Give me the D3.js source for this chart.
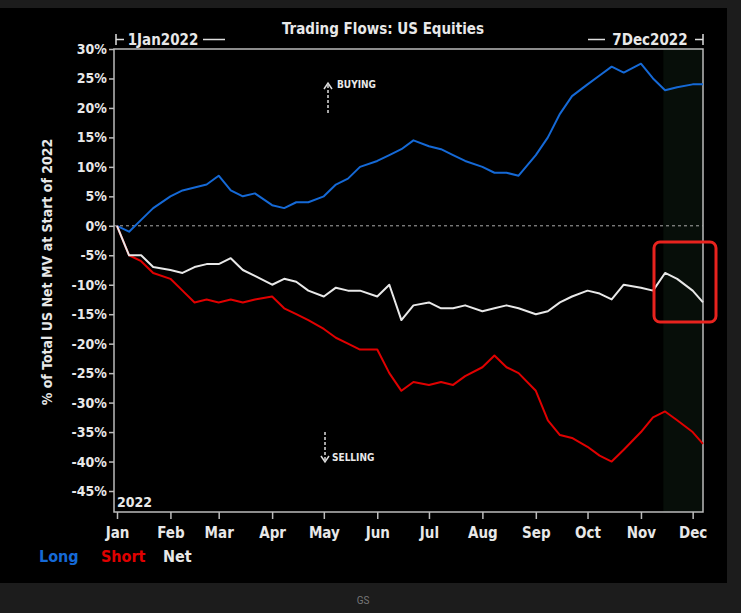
<!DOCTYPE html>
<html><head><meta charset="utf-8">
<script src="https://cdn.jsdelivr.net/npm/d3@7"></script>
<style>
body{margin:0;background:#1c1c1c;}
svg{display:block;}
text{font-family:"DejaVu Sans Condensed","Liberation Sans Narrow",sans-serif;font-weight:bold;fill:#e8e8e8;}
</style></head><body>
<svg id="chart" width="741" height="613"></svg>
<script>
const dates = ["2022-01-01","2022-01-08","2022-01-15","2022-01-22","2022-02-01","2022-02-08","2022-02-15","2022-02-22",
  "2022-03-01","2022-03-08","2022-03-15","2022-03-22","2022-04-01","2022-04-08","2022-04-15","2022-04-22",
  "2022-05-01","2022-05-08","2022-05-15","2022-05-22","2022-06-01","2022-06-08","2022-06-15","2022-06-22",
  "2022-07-01","2022-07-08","2022-07-15","2022-07-22","2022-08-01","2022-08-08","2022-08-15","2022-08-22",
  "2022-09-01","2022-09-08","2022-09-15","2022-09-22","2022-10-01","2022-10-08","2022-10-15","2022-10-22",
  "2022-11-01","2022-11-08","2022-11-15","2022-11-22","2022-12-01","2022-12-07"];
const longVals = [0,-1,1,3,5,6,6.5,7, 8.5,6,5,5.5,3.5,3,4,4, 5,7,8,10,11,12,13,14.5, 13.5,13,12,11,10,9,9,8.5,
  12,15,19,22,24,25.5,27,26, 27.5,25,23,23.5,24,24];
const shortVals = [0,-5,-6,-8,-9,-11,-13,-12.5, -13,-12.5,-13,-12.5,-12,-14,-15,-16, -17.5,-19,-20,-21,-21,-25,-28,-26.5,
  -27,-26.5,-27,-25.5,-24,-22,-24,-25, -28,-33,-35.5,-36,-37.5,-39,-40,-38, -35,-32.5,-31.5,-33,-35,-37];
const netVals = [0,-5,-5,-7,-7.5,-8,-7,-6.5, -6.5,-5.5,-7.5,-8.5,-10,-9,-9.5,-11, -12,-10.5,-11,-11,-12,-10,-16,-13.5,
  -13,-14,-14,-13.5,-14.5,-14,-13.5,-14, -15,-14.5,-13,-12,-11,-11.5,-12.5,-10, -10.5,-11,-8,-9,-11,-13];
const months = ["Jan","Feb","Mar","Apr","May","Jun","Jul","Aug","Sep","Oct","Nov","Dec"];
const yTicks = [30,25,20,15,10,5,0,-5,-10,-15,-20,-25,-30,-35,-40,-45];

const svg = d3.select("#chart");
svg.append("rect").attr("x",0).attr("y",8).attr("width",727).attr("height",575).attr("fill","#000");

const parse = d3.timeParse("%Y-%m-%d");
const x = d3.scaleTime().domain([parse("2022-01-01"), parse("2022-12-07")]).range([117, 703]);
const y = d3.scaleLinear().domain([-45, 30]).range([491, 49]);
const bottom = 512;

// shaded recent period
svg.append("rect").attr("x", x(parse("2022-11-14"))).attr("y",49)
  .attr("width", 703 - x(parse("2022-11-14"))).attr("height",bottom-49).attr("fill","#070e09");

// frame
svg.append("path").attr("d",`M114,49H703V${bottom}H114Z`).attr("fill","none").attr("stroke","#bbb").attr("stroke-width",1.5);

// y axis
const ya = svg.append("g").attr("transform","translate(114,0)")
  .call(d3.axisLeft(y).tickValues(yTicks).tickFormat(d => d + "%").tickSize(5));
ya.select(".domain").remove();
ya.selectAll("line").attr("stroke","#bbb").attr("stroke-width",1.5);
ya.selectAll("text").attr("font-size",14).attr("fill","#e8e8e8").attr("dx",1);

// x axis
const xa = svg.append("g").attr("transform",`translate(0,${bottom})`)
  .call(d3.axisBottom(x).tickValues(months.map((m,i)=>new Date(2022,i,1))).tickFormat((d,i)=>months[i]).tickSize(7).tickPadding(8));
xa.select(".domain").remove();
xa.selectAll("line").attr("stroke","#bbb").attr("stroke-width",1.5);
xa.selectAll("text").attr("font-size",15).attr("fill","#e8e8e8");

// zero line
svg.append("line").attr("x1",114).attr("x2",703).attr("y1",y(0)).attr("y2",y(0))
  .attr("stroke","#aaa").attr("stroke-dasharray","3,3").attr("stroke-width",1);

const pts = dates.map(parse);
const line = d3.line().x((d,i)=>x(pts[i])).y(d=>y(d));
[[longVals,"#1569d6"],[shortVals,"#e00000"],[netVals,"#e8e8e8"]].forEach(([v,c])=>{
  svg.append("path").attr("d",line(v)).attr("fill","none").attr("stroke",c).attr("stroke-width",2).attr("stroke-linejoin","round");
});

// titles
svg.append("text").attr("x",383).attr("y",34).attr("text-anchor","middle").attr("font-size",15).text("Trading Flows: US Equities");
svg.append("text").attr("x",163).attr("y",45).attr("text-anchor","middle").attr("font-size",15).text("1Jan2022");
svg.append("path").attr("d","M116,34V45M116,39.5H124M203,39.5H225").attr("stroke","#ddd").attr("stroke-width",1.5);
svg.append("text").attr("x",650).attr("y",45).attr("text-anchor","middle").attr("font-size",15).text("7Dec2022");
svg.append("path").attr("d","M588,39.5H605M695,39.5H703M703,34V45").attr("stroke","#ddd").attr("stroke-width",1.5);
svg.append("text").attr("x",117).attr("y",507).attr("font-size",14).text("2022");

// y label
svg.append("text").attr("transform","translate(52,272) rotate(-90)").attr("text-anchor","middle").attr("font-size",14)
  .text("% of Total US Net MV at Start of 2022");

// buying / selling arrows
svg.append("path").attr("d","M328,113V85").attr("stroke","#ddd").attr("stroke-width",1.5).attr("stroke-dasharray","3,2");
svg.append("path").attr("d","M324,89L328,83L332,89").attr("stroke","#ddd").attr("fill","none").attr("stroke-width",1.5);
svg.append("text").attr("x",337).attr("y",88).attr("font-size",10).text("BUYING");
svg.append("path").attr("d","M325,432V460").attr("stroke","#ddd").attr("stroke-width",1.5).attr("stroke-dasharray","3,2");
svg.append("path").attr("d","M321,456L325,462L329,456").attr("stroke","#ddd").attr("fill","none").attr("stroke-width",1.5);
svg.append("text").attr("x",332).attr("y",461).attr("font-size",10).text("SELLING");

// highlight box
svg.append("rect").attr("x",654).attr("y",242).attr("width",62).attr("height",80).attr("rx",6)
  .attr("fill","none").attr("stroke","#e8231e").attr("stroke-width",3);

// legend
[["Long","#1569d6",39],["Short","#e00000",101],["Net","#e8e8e8",163]].forEach(([t,c,lx])=>{
  svg.append("text").attr("x",lx).attr("y",562).attr("font-size",16).style("fill",c).text(t);
});

svg.append("text").attr("x",363).attr("y",604).attr("text-anchor","middle").attr("font-size",10)
  .style("font-weight","normal").style("fill","#777").style("font-family","Roboto").text("GS");
</script>
</body></html>
